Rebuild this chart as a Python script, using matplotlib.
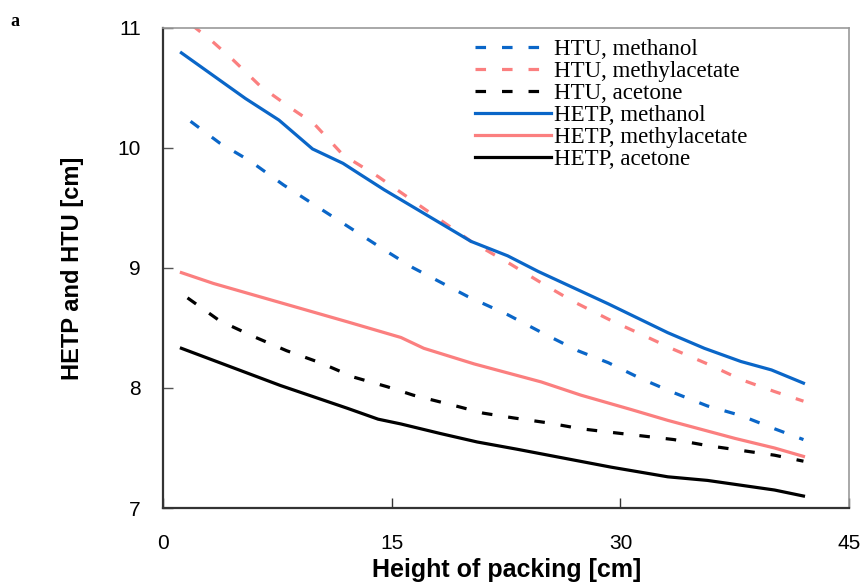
import numpy as np
import matplotlib.pyplot as plt

# Height of packing [cm] and HETP / HTU values [cm]
x_htu_meoh = [1.8, 3.7, 5.7, 7.9, 10.1, 12.3, 14.5, 16.4, 20.0, 22.6, 25.0, 27.2, 29.2, 31.3, 33.5, 35.7, 37.9, 40.1, 42.0]
htu_meoh = [10.22, 10.04, 9.89, 9.69, 9.51, 9.33, 9.15, 9.00, 8.76, 8.61, 8.45, 8.31, 8.21, 8.08, 7.96, 7.85, 7.77, 7.66, 7.57]

x_htu_meac = [1.9, 3.1, 4.6, 6.4, 8.5, 9.9, 11.8, 14.1, 20.2, 22.8, 25.0, 26.9, 29.4, 31.3, 33.5, 35.7, 37.9, 40.1, 42.0]
htu_meac = [11.02, 10.90, 10.73, 10.51, 10.32, 10.20, 9.94, 9.76, 9.22, 9.03, 8.86, 8.72, 8.56, 8.45, 8.32, 8.20, 8.07, 7.97, 7.89]

x_htu_acet = [1.6, 3.7, 5.9, 8.1, 10.3, 12.5, 14.7, 16.4, 18.9, 21.0, 23.0, 25.2, 27.4, 29.4, 33.5, 35.7, 37.9, 40.1, 42.0]
htu_acet = [8.75, 8.56, 8.43, 8.31, 8.21, 8.09, 8.01, 7.94, 7.86, 7.79, 7.75, 7.71, 7.66, 7.63, 7.57, 7.52, 7.48, 7.44, 7.39]

x_hetp_meoh = [1.2, 5.4, 7.6, 8.7, 9.8, 11.8, 12.9, 14.5, 20.2, 22.6, 24.6, 29.2, 33.1, 35.5, 37.9, 39.9, 42.0]
hetp_meoh = [10.79, 10.41, 10.23, 10.11, 9.99, 9.87, 9.78, 9.65, 9.22, 9.10, 8.97, 8.70, 8.46, 8.33, 8.22, 8.15, 8.04]

x_hetp_meac = [1.2, 3.3, 7.7, 12.1, 15.6, 17.1, 20.4, 24.8, 27.4, 30.7, 33.1, 37.5, 40.1, 42.0]
hetp_meac = [8.96, 8.87, 8.71, 8.55, 8.42, 8.33, 8.20, 8.05, 7.94, 7.82, 7.73, 7.58, 7.50, 7.43]

x_hetp_acet = [1.2, 7.7, 12.1, 14.1, 15.6, 18.2, 20.6, 23.2, 29.4, 33.1, 35.7, 37.9, 40.1, 42.0]
hetp_acet = [8.33, 8.02, 7.83, 7.74, 7.70, 7.62, 7.55, 7.49, 7.34, 7.26, 7.23, 7.19, 7.15, 7.10]

BLUE = "#0a66c8"
PINK = "#fb7f7f"
BLACK = "#000000"

fig = plt.figure(figsize=(8.63, 5.88), dpi=100)
ax = fig.add_axes([0.189, 0.136, 0.795, 0.817])

dash = (3.3, 5)
lw = 2.3
ax.plot(x_htu_meoh, htu_meoh, color=BLUE, lw=lw, dashes=dash, label="HTU, methanol")
ax.plot(x_htu_meac, htu_meac, color=PINK, lw=lw, dashes=dash, label="HTU, methylacetate")
ax.plot(x_htu_acet, htu_acet, color=BLACK, lw=lw, dashes=dash, label="HTU, acetone")
ax.plot(x_hetp_meoh, hetp_meoh, color=BLUE, lw=lw, label="HETP, methanol")
ax.plot(x_hetp_meac, hetp_meac, color=PINK, lw=lw, label="HETP, methylacetate")
ax.plot(x_hetp_acet, hetp_acet, color=BLACK, lw=lw, label="HETP, acetone")

ax.set_xlim(0, 45)
ax.set_ylim(7, 11)
ax.set_xticks([0, 15, 30, 45])
ax.set_yticks([7, 8, 9, 10, 11])

tick_font = {"family": ["Liberation Sans", "DejaVu Sans"], "size": 15}
ax.set_xticklabels(["0", "15", "30", "45"], fontdict=tick_font)
ax.set_yticklabels(["7", "8", "9", "10", "11"], fontdict=tick_font)
ax.tick_params(axis="x", direction="in", length=7, width=1, pad=19, color="#333333")
ax.tick_params(axis="y", direction="in", length=7, width=1, pad=16, color="#555555")

for side in ["left", "bottom"]:
    ax.spines[side].set_color("#333333")
    ax.spines[side].set_linewidth(1.6)
for side in ["top", "right"]:
    ax.spines[side].set_color("#999999")
    ax.spines[side].set_linewidth(1.2)

ax.set_xlabel("Height of packing [cm]", family=["Liberation Sans", "DejaVu Sans"],
              size=18, weight="bold", labelpad=3)
ax.set_ylabel("HETP and HTU [cm]", family=["Liberation Sans", "DejaVu Sans"],
              size=17, weight="bold", labelpad=24)

ax.legend(loc="upper left", bbox_to_anchor=(0.455, 0.976), frameon=False,
          prop={"family": ["Liberation Serif", "DejaVu Serif"], "size": 16.5},
          handlelength=3.3, handletextpad=0.15, labelspacing=0.04,
          borderpad=0, borderaxespad=0)

fig.text(0.012, 0.978, "a", family=["Liberation Serif", "DejaVu Serif"], weight="bold", size=13, va="top")

fig.savefig("out.png", dpi=100)
